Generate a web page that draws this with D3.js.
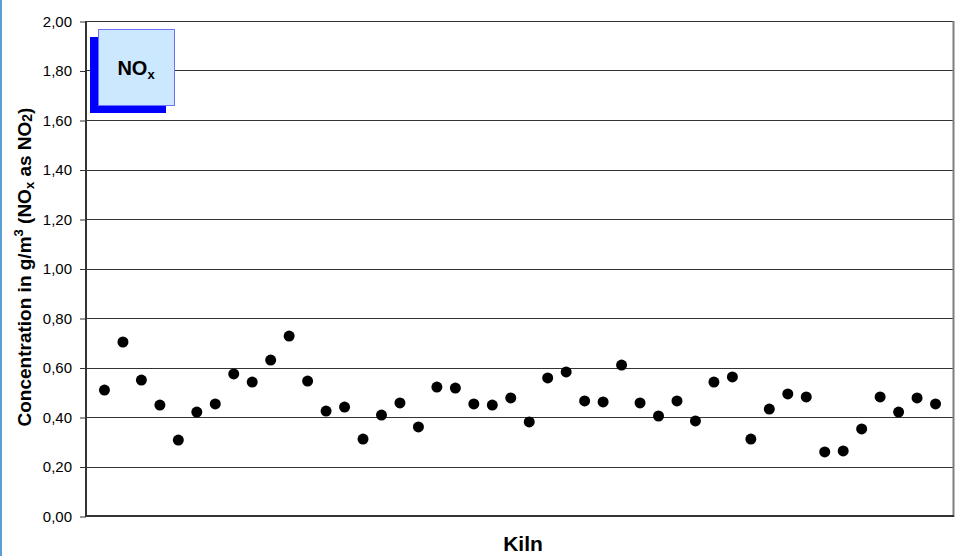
<!DOCTYPE html>
<html>
<head>
<meta charset="utf-8">
<script src="https://cdn.jsdelivr.net/npm/d3@7"></script>
<style>
  html, body { margin: 0; padding: 0; background: #fff; }
  svg { display: block; font-family: "Liberation Sans", Arial, sans-serif; }
</style>
</head>
<body>
<svg id="chart" width="958" height="556"></svg>
<script>
// ---- data ----
const kilns = d3.range(1, 47);   // 46 kilns, index 1..46
const noxValues = [
  0.509, 0.703, 0.549, 0.448, 0.307, 0.420, 0.453, 0.574, 0.541, 0.630,
  0.727, 0.545, 0.424, 0.440, 0.311, 0.408, 0.457, 0.360, 0.521, 0.517,
  0.453, 0.448, 0.477, 0.380, 0.558, 0.582, 0.465, 0.461, 0.610, 0.457,
  0.404, 0.465, 0.384, 0.541, 0.562, 0.311, 0.432, 0.493, 0.481, 0.259,
  0.263, 0.352, 0.481, 0.420, 0.477, 0.453
];
const yTicks = [0, 0.2, 0.4, 0.6, 0.8, 1.0, 1.2, 1.4, 1.6, 1.8, 2.0];
const yTickLabels = ["0,00","0,20","0,40","0,60","0,80","1,00","1,20","1,40","1,60","1,80","2,00"];
const xTitle = "Kiln";
const legendLabel = "NO";

// ---- layout ----
const svg = d3.select("#chart");
const W = 958, H = 556;
const mLeft = 86, mRight = 954, mTop = 21, mBottom = 516;

const x = d3.scaleLinear().domain([0, kilns.length + 1]).range([mLeft, mRight]);
const y = d3.scaleLinear().domain([0, 2]).range([mBottom, mTop]);

// outer left border (blue)
svg.append("rect").attr("x", 0).attr("y", 0).attr("width", 2).attr("height", H).attr("fill", "#5b9fd2");

// gridlines
svg.append("g").selectAll("line").data(yTicks.filter(d => d > 0)).join("line")
  .attr("x1", mLeft).attr("x2", mRight)
  .attr("y1", d => Math.round(y(d)) + 0.5).attr("y2", d => Math.round(y(d)) + 0.5)
  .attr("stroke", "#333").attr("stroke-width", 1);

// right border of plot
svg.append("line").attr("x1", mRight - 0.5).attr("x2", mRight - 0.5)
  .attr("y1", mTop).attr("y2", mBottom + 1)
  .attr("stroke", "#7f7f7f").attr("stroke-width", 2);

// y axis
const yAxis = d3.axisLeft(y).tickValues(yTicks)
  .tickFormat((d, i) => yTickLabels[i]).tickSize(6).tickPadding(8);
const gy = svg.append("g").attr("transform", `translate(${mLeft},0.5)`).call(yAxis);
gy.select(".domain").remove();
gy.selectAll(".tick line").attr("stroke", "#333").attr("stroke-width", 1);
gy.selectAll(".tick text").attr("font-size", "15px").attr("fill", "#000")
  .attr("font-family", "'Liberation Sans', Arial, sans-serif");

// axis lines
svg.append("line").attr("x1", mLeft).attr("x2", mLeft).attr("y1", mTop).attr("y2", mBottom + 1)
  .attr("stroke", "#333").attr("stroke-width", 2);
svg.append("line").attr("x1", mLeft).attr("x2", mRight).attr("y1", mBottom).attr("y2", mBottom)
  .attr("stroke", "#333").attr("stroke-width", 2);

// points
svg.append("g").selectAll("circle").data(noxValues).join("circle")
  .attr("cx", (d, i) => x(kilns[i]))
  .attr("cy", d => y(d))
  .attr("r", 5.5)
  .attr("fill", "#000");

// legend box with shadow
svg.append("rect").attr("x", 90).attr("y", 37).attr("width", 76).attr("height", 76).attr("fill", "#0000ff");
svg.append("rect").attr("x", 98.5).attr("y", 29.5).attr("width", 76).attr("height", 76)
  .attr("fill", "#cce8ff").attr("stroke", "#7070ff").attr("stroke-width", 1);
const lt = svg.append("text").attr("x", 136).attr("y", 75).attr("text-anchor", "middle")
  .attr("font-weight", "bold").attr("font-size", "20px").attr("fill", "#000");
lt.append("tspan").text(legendLabel);
lt.append("tspan").attr("font-size", "13px").attr("dy", 4).text("x");

// x title
svg.append("text").attr("x", 523).attr("y", 551).attr("text-anchor", "middle")
  .attr("font-weight", "bold").attr("font-size", "21px").text(xTitle);

// y title
const yt = svg.append("text").attr("transform", `translate(31,267) rotate(-90)`)
  .attr("text-anchor", "middle").attr("font-weight", "bold").attr("font-size", "19px").attr("fill", "#000");
yt.append("tspan").text("Concentration in g/m");
yt.append("tspan").attr("font-size", "13px").attr("dy", -8).text("3");
yt.append("tspan").attr("dy", 8).text(" (NO");
yt.append("tspan").attr("font-size", "13px").attr("dy", 3).text("x");
yt.append("tspan").attr("dy", -3).text(" as NO");
yt.append("tspan").attr("font-size", "14px").attr("dy", 1).text("2");
yt.append("tspan").attr("dy", -1).text(")");
</script>
</body>
</html>
